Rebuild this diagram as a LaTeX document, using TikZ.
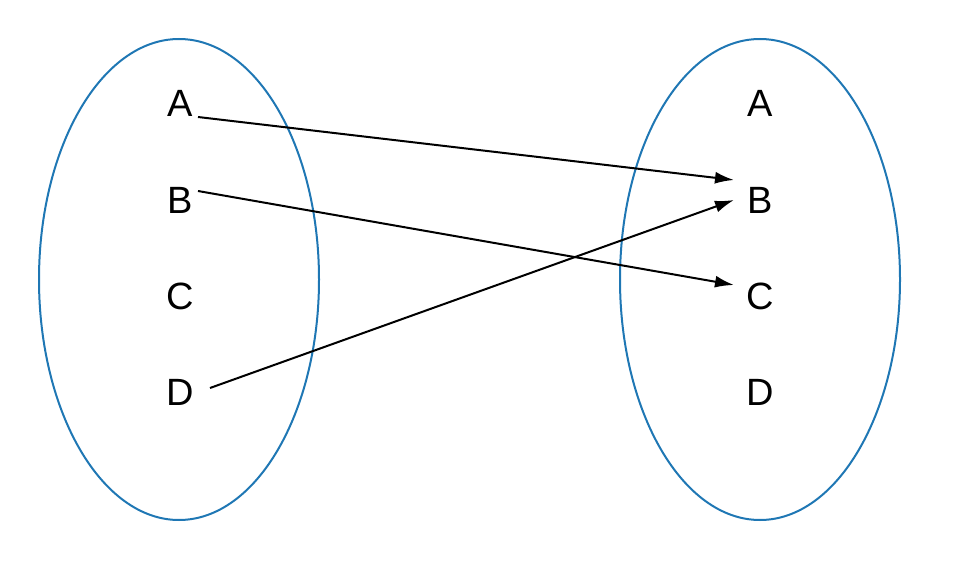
\documentclass[tikz,border=0pt]{standalone}
\usepackage{fontspec}
\setmainfont{Liberation Sans}
\usetikzlibrary{arrows.meta}
\definecolor{setblue}{HTML}{1F77B4}
\begin{document}
\begin{tikzpicture}[x=1pt,y=-1pt,
  setring/.style={draw=setblue,line width=2pt},
  elem/.style={inner sep=0pt,font=\fontsize{38}{40}\selectfont},
  mapto/.style={draw=black,line width=2pt,-{Latex[length=19pt,width=12pt]}}]
  \useasboundingbox (0,0) rectangle (967,583);
  % the two sets
  \draw[setring] (179,279.5) ellipse [x radius=140, y radius=240.5];
  \draw[setring] (760,279.5) ellipse [x radius=140, y radius=240.5];
  % domain elements
  \node[elem] (lA) at (180,103) {A};
  \node[elem] (lB) at (180,200) {B};
  \node[elem] (lC) at (180,296) {C};
  \node[elem] (lD) at (180,392) {D};
  % codomain elements
  \node[elem] (rA) at (760,103) {A};
  \node[elem] (rB) at (760,200) {B};
  \node[elem] (rC) at (760,296) {C};
  \node[elem] (rD) at (760,392) {D};
  % the mapping
  \draw[mapto] ([shift={(18,14)}]lA.center) -- ([shift={(-26,-20)}]rB.center);
  \draw[mapto] ([shift={(18,-9)}]lB.center) -- ([shift={(-26,-11)}]rC.center);
  \draw[mapto] ([shift={(30,-4)}]lD.center) -- ([shift={(-26,0)}]rB.center);
\end{tikzpicture}
\end{document}
